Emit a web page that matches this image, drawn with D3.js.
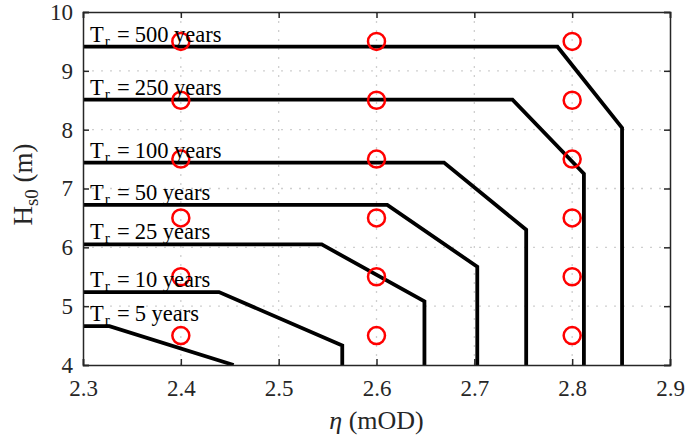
<!DOCTYPE html>
<html>
  <head>
    <meta charset="utf-8">
    <style>
      body { margin: 0; background: #fff; }
      text { font-family: "Liberation Serif", serif; fill: #262626; }
      .grid line { stroke: #cfcfcf; stroke-width: 1.3; stroke-dasharray: 2,7; }
      .contour { fill: none; stroke: #000; stroke-width: 3.8; stroke-linejoin: miter; }
      .sample { fill: none; stroke: #ff0000; stroke-width: 2.5; }
    </style>
  </head>
  <body>
    <script src="https://cdn.jsdelivr.net/npm/d3@7"></script>
    <script>
      // return periods (years) and the contour corners
      var periods = [5, 10, 25, 50, 100, 250, 500];
      var contourEta = [
        [2.3, 2.327, 2.454],
        [2.3, 2.439, 2.565, 2.565],
        [2.3, 2.544, 2.649, 2.649],
        [2.3, 2.611, 2.703, 2.703],
        [2.3, 2.669, 2.753, 2.753],
        [2.3, 2.739, 2.812, 2.812],
        [2.3, 2.785, 2.851, 2.851]
      ];
      var contourHs = [
        [4.66, 4.66, 4.0],
        [5.24, 5.24, 4.33, 4.0],
        [6.05, 6.05, 5.08, 4.0],
        [6.72, 6.72, 5.67, 4.0],
        [7.44, 7.44, 6.30, 4.0],
        [8.51, 8.51, 7.25, 4.0],
        [9.41, 9.41, 8.03, 4.0]
      ];

      // sample points (red circles)
      var sampleEta = [2.4, 2.6, 2.8];
      var sampleHs = [4.5, 5.5, 6.5, 7.5, 8.5, 9.5];

      var xTicks = [2.3, 2.4, 2.5, 2.6, 2.7, 2.8, 2.9];
      var yTicks = [4, 5, 6, 7, 8, 9, 10];

      var W = 686, H = 440;
      var margin = {top: 12, right: 16, bottom: 75, left: 83};
      var width = W - margin.left - margin.right,
          height = H - margin.top - margin.bottom;

      var x = d3.scaleLinear().domain([2.3, 2.9]).range([0, width]);
      var y = d3.scaleLinear().domain([4, 10]).range([height, 0]);

      var svg = d3.select("body").append("svg")
          .attr("width", W)
          .attr("height", H)
        .append("g")
          .attr("transform", "translate(" + margin.left + "," + margin.top + ")");

      // dotted grid
      var grid = svg.append("g").attr("class", "grid");
      grid.selectAll(".gx").data(xTicks.slice(1, -1)).enter().append("line")
          .attr("x1", x).attr("x2", x).attr("y1", 0).attr("y2", height);
      grid.selectAll(".gy").data(yTicks.slice(1, -1)).enter().append("line")
          .attr("y1", y).attr("y2", y).attr("x1", 0).attr("x2", width);

      svg.append("defs").append("clipPath").attr("id", "clip")
        .append("rect").attr("width", width).attr("height", height);

      // contour lines
      var line = d3.line()
          .x(function(d) { return x(d[0]); })
          .y(function(d) { return y(d[1]); });

      var curves = periods.map(function(p, i) {
        return {
          period: p,
          pts: contourEta[i].map(function(e, j) { return [e, contourHs[i][j]]; })
        };
      });

      svg.append("g").attr("clip-path", "url(#clip)")
        .selectAll(".contour").data(curves).enter().append("path")
          .attr("class", "contour")
          .attr("d", function(d) { return line(d.pts); });

      // sample circles
      var samples = [];
      sampleEta.forEach(function(e) {
        sampleHs.forEach(function(h) { samples.push([e, h]); });
      });
      svg.append("g").selectAll("circle").data(samples).enter().append("circle")
          .attr("class", "sample")
          .attr("cx", function(d) { return x(d[0]); })
          .attr("cy", function(d) { return y(d[1]); })
          .attr("r", 8.5);

      // labels
      var lab = svg.append("g").selectAll("text").data(curves).enter().append("text")
          .attr("x", 7)
          .attr("y", function(d) { return y(d.pts[0][1]) - 5; })
          .style("font-size", "22.5px")
          .style("fill", "#000");
      lab.append("tspan").text("T");
      lab.append("tspan").attr("dy", 4).attr("dx", 1).style("font-size", "15.5px").text("r");
      lab.append("tspan").attr("dy", -4).attr("dx", 7).text("=");
      lab.append("tspan").attr("dx", 5).text(function(d) { return d.period + " years"; });

      // axes box
      var xAxis = d3.axisBottom(x).tickValues(xTicks).tickSize(-6).tickPadding(15)
          .tickFormat(d3.format(".1f"));
      var yAxis = d3.axisLeft(y).tickValues(yTicks).tickSize(-6).tickPadding(10)
          .tickFormat(d3.format("d"));

      svg.append("g").attr("transform", "translate(0," + height + ")").call(xAxis);
      svg.append("g").call(yAxis);
      svg.append("g").call(d3.axisTop(x).tickValues(xTicks).tickSize(-6).tickFormat(""));
      svg.append("g").attr("transform", "translate(" + width + ",0)")
          .call(d3.axisRight(y).tickValues(yTicks).tickSize(-6).tickFormat(""));

      svg.selectAll(".domain, .tick line").attr("stroke", "#262626").attr("stroke-width", 1.5);
      svg.selectAll(".tick text").style("font-family", "Liberation Serif, serif")
          .style("font-size", "23px").attr("fill", "#262626");

      // axis titles
      var xl = svg.append("text")
          .attr("x", width / 2)
          .attr("y", height + 64)
          .attr("text-anchor", "middle")
          .style("font-size", "26px");
      xl.append("tspan").style("font-style", "italic").text("\u03b7");
      xl.append("tspan").text(" (mOD)");

      var yl = svg.append("text")
          .attr("transform", "translate(-51," + (height / 2 - 4) + ") rotate(-90)")
          .attr("text-anchor", "middle")
          .style("font-size", "27px");
      yl.append("tspan").text("H");
      yl.append("tspan").attr("dy", 6).style("font-size", "19px").text("s0");
      yl.append("tspan").attr("dy", -6).text(" (m)");
    </script>
  </body>
</html>
